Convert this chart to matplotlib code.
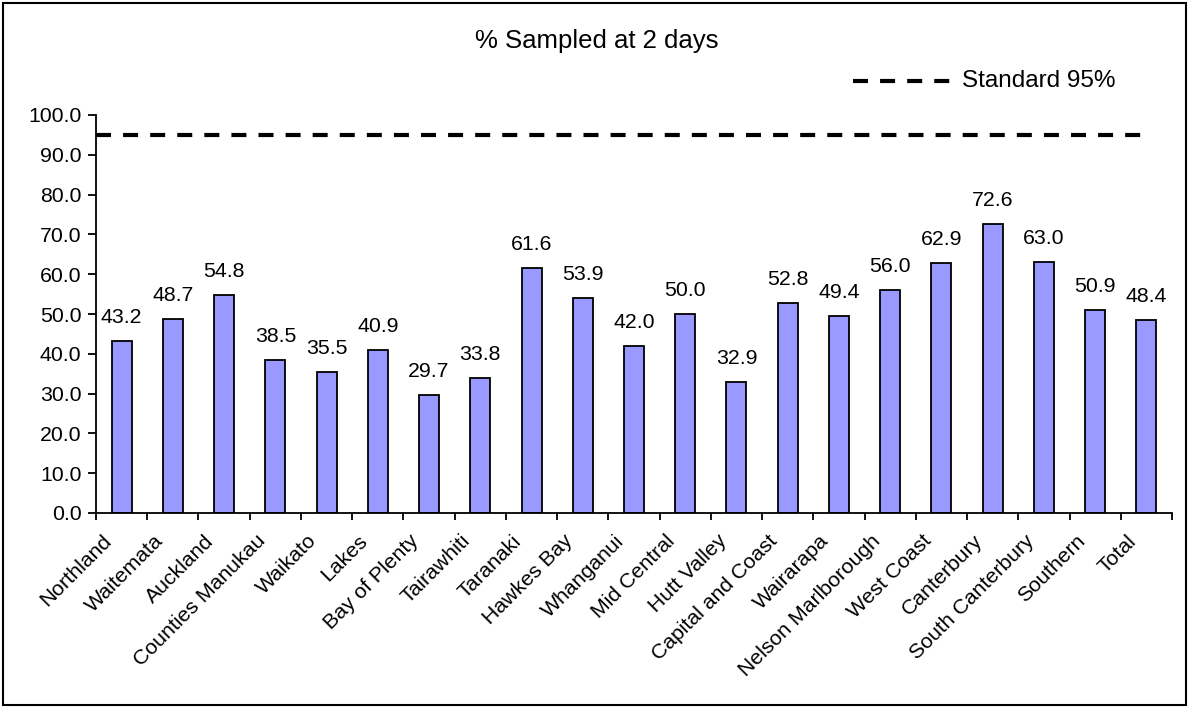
import matplotlib
matplotlib.use("Agg")
import matplotlib.pyplot as plt
from matplotlib.lines import Line2D
from matplotlib.patches import Rectangle
from matplotlib.transforms import ScaledTranslation

regions = ["Northland", "Waitemata", "Auckland", "Counties Manukau", "Waikato",
           "Lakes", "Bay of Plenty", "Tairawhiti", "Taranaki", "Hawkes Bay",
           "Whanganui", "Mid Central", "Hutt Valley", "Capital and Coast",
           "Wairarapa", "Nelson Marlborough", "West Coast", "Canterbury",
           "South Canterbury", "Southern", "Total"]
pct_sampled = [43.2, 48.7, 54.8, 38.5, 35.5, 40.9, 29.7, 33.8, 61.6, 53.9,
               42.0, 50.0, 32.9, 52.8, 49.4, 56.0, 62.9, 72.6, 63.0, 50.9, 48.4]
standard = 95.0
y_ticks = [0, 10, 20, 30, 40, 50, 60, 70, 80, 90, 100]

plt.rcParams["font.family"] = ["Liberation Sans", "DejaVu Sans"]
fs = 15.3
dash = (0, (3.6, 2.9))

fig = plt.figure(figsize=(11.89, 7.08), dpi=100)
W, H = 1189, 708
ax = fig.add_axes([96 / W, 1 - 513 / H, (1172 - 96) / W, (513 - 115) / H])

# outer chart frame
fig.patches.append(Rectangle((3 / W, 3 / H), 1183 / W, 702 / H, transform=fig.transFigure,
                             fill=False, edgecolor="black", linewidth=1.5))

x = list(range(len(regions)))
ax.bar(x, pct_sampled, width=0.39, color="#9999FF", edgecolor="black", linewidth=1.3, zorder=2)
for xi, v in zip(x, pct_sampled):
    ax.annotate(f"{v:.1f}", (xi, v), xytext=(0, 13), textcoords="offset points",
                ha="center", va="baseline", fontsize=fs)

ax.hlines(standard, -0.5, len(regions) - 1, colors="black", linestyles=[dash],
          linewidth=3, zorder=3)

ax.set_xlim(-0.5, len(regions) - 0.5)
ax.set_ylim(0, 100)
ax.set_yticks(y_ticks)
ax.set_yticklabels([f"{t:.1f}" for t in y_ticks], fontsize=fs)
# category boundaries carry the tick marks; names sit under each bar
ax.set_xticks([i - 0.5 for i in range(len(regions) + 1)])
ax.set_xticklabels([])
label_tf = ax.get_xaxis_transform() + ScaledTranslation(-13 / 100, -25 / 100, fig.dpi_scale_trans)
for xi, name in zip(x, regions):
    ax.text(xi, 0, name, transform=label_tf, rotation=45, ha="right", va="center",
            rotation_mode="anchor", fontsize=fs, clip_on=False)
ax.tick_params(axis="x", which="major", length=5, width=1.3, direction="out")
ax.tick_params(axis="y", length=5.5, width=1.3, direction="out", pad=5)
for s in ["top", "right"]:
    ax.spines[s].set_visible(False)
for s in ["left", "bottom"]:
    ax.spines[s].set_linewidth(1.3)
ax.patch.set_alpha(0)

fig.text(597 / W, 1 - 41 / H, "% Sampled at 2 days", ha="center", va="center", fontsize=18.5)

# legend entry for the standard line
fig.lines.append(Line2D([853 / W, 952 / W], [1 - 81 / H, 1 - 81 / H], transform=fig.transFigure,
                        color="black", linestyle=dash, linewidth=3))
fig.text(962 / W, 1 - 81 / H, "Standard 95%", ha="left", va="center", fontsize=17.5)

fig.savefig("out.png", dpi=100)
